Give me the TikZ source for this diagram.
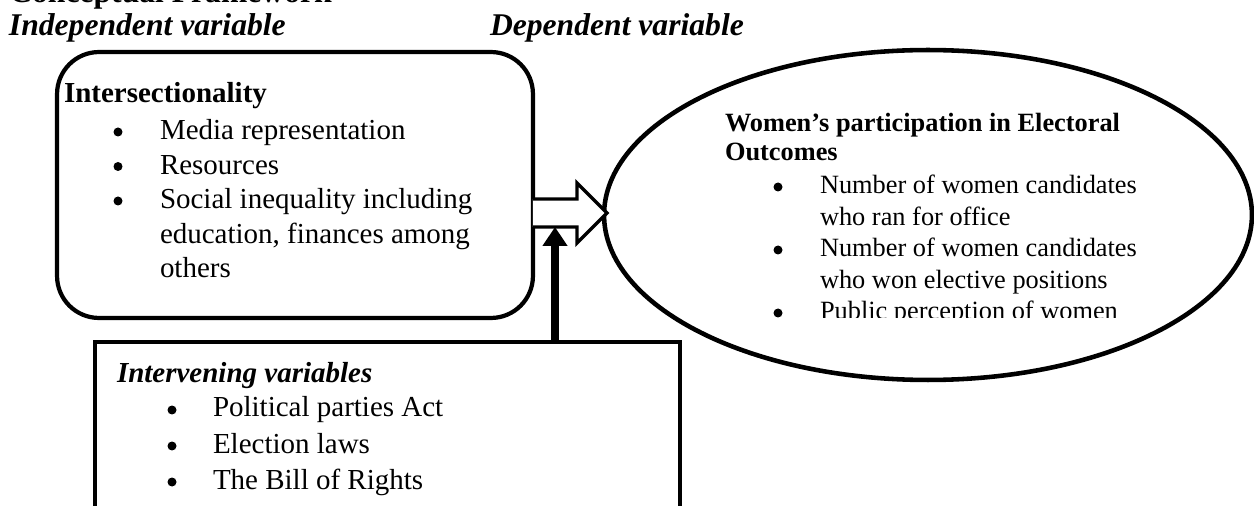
\documentclass[tikz,border=0pt]{standalone}
\usepackage{fontspec}
\setmainfont{Liberation Serif}
\usetikzlibrary{arrows.meta,shapes.geometric}
\begin{document}
\begin{tikzpicture}[x=0.02cm,y=-0.02cm,
  txt/.style={anchor=base west,inner sep=0pt,outer sep=0pt,font=\fontsize{16.5}{19.6}\selectfont},
  etxt/.style={anchor=base west,inner sep=0pt,outer sep=0pt,font=\fontsize{15}{17.6}\selectfont},
  head/.style={anchor=base west,inner sep=0pt,outer sep=0pt,font=\fontsize{18}{21}\selectfont\bfseries\itshape},
  bul/.style={circle,fill=black,inner sep=0pt,minimum size=0.18cm},
  framebox/.style={draw,line width=2.4pt,outer sep=0pt,inner sep=0pt},
  hollow/.style={draw,fill=white,line width=1.9pt,line join=miter},
  varrow/.style={line width=4.8pt,-{Triangle[width=13.6pt,length=10.8pt]}}]
\useasboundingbox (0,0) rectangle (1254,506);
% headings
\node[anchor=base west,inner sep=0pt,font=\fontsize{18}{21}\selectfont\bfseries] (ttl) at (9,3) {Conceptual Framework};
\node[head] (hind) at (9,36) {Independent variable};
\node[head] (hdep) at (490,36) {Dependent variable};
% shapes
\node[framebox,rounded corners=0.84cm,minimum width=9.52cm,minimum height=5.32cm] (ibox) at (295,185) {};
\node[framebox,ellipse,line width=2.6pt,minimum width=12.96cm,minimum height=6.6cm] (el) at (928,215) {};
\node[framebox,rectangle,fill=white,minimum width=11.7cm,minimum height=8cm] (ivar) at (387.5,542) {};
% hollow arrow
\path (ibox.east) ++(0,28) coordinate (hs);
\draw[hollow] (hs) ++(0,-14) -- ++(44,0) -- ++(0,-16) -- ++(30,30) -- ++(-30,30) -- ++(0,-16) -- ++(-44,0) coordinate (hbl);
\path (ivar.north) ++(167.5,0) coordinate (vb);
\draw[varrow] (vb) -- (vb |- hbl);
% independent text
\node[txt,font=\fontsize{16.5}{19.6}\selectfont\bfseries] (t0) at (64,103) {Intersectionality};
\node[bul] (tb1) at (118,132) {};
\node[bul] (tb2) at (118,166.5) {};
\node[bul] (tb3) at (118,201) {};
\node[txt] (t1) at (160,140) {Media representation};
\node[txt] (t2) at (160,174.5) {Resources};
\node[txt] (t3) at (160,209) {Social inequality including};
\node[txt] (t4) at (160,243.5) {education, finances among};
\node[txt] (t5) at (160,278) {others};
% intervening text
\node[txt,font=\fontsize{16.5}{19.6}\selectfont\bfseries\itshape] (v0) at (117,382) {Intervening variables};
\node[bul] (vb1) at (172,410) {};
\node[bul] (vb2) at (172,446) {};
\node[bul] (vb3) at (172,482) {};
\node[txt] (v1) at (213,417) {Political parties Act};
\node[txt] (v2) at (213,453) {Election laws};
\node[txt] (v3) at (213,489) {The Bill of Rights};
% dependent text
\node[etxt,font=\fontsize{15}{17.6}\selectfont\bfseries] (d0) at (725,132) {Women’s participation in Electoral};
\node[etxt,font=\fontsize{15}{17.6}\selectfont\bfseries] (d1) at (725,161) {Outcomes};
\node[bul] (db1) at (778,187) {};
\node[bul] (db2) at (778,250) {};
\node[bul] (db3) at (778,313) {};
\node[etxt] (d2) at (820,194) {Number of women candidates};
\node[etxt] (d3) at (820,225.5) {who ran for office};
\node[etxt] (d4) at (820,257) {Number of women candidates};
\node[etxt] (d5) at (820,288.5) {who won elective positions};
\begin{scope}
\clip (0,0) rectangle (1254,318);
\node[etxt] (d6) at (820,320) {Public perception of women};
\end{scope}
\end{tikzpicture}
\end{document}
